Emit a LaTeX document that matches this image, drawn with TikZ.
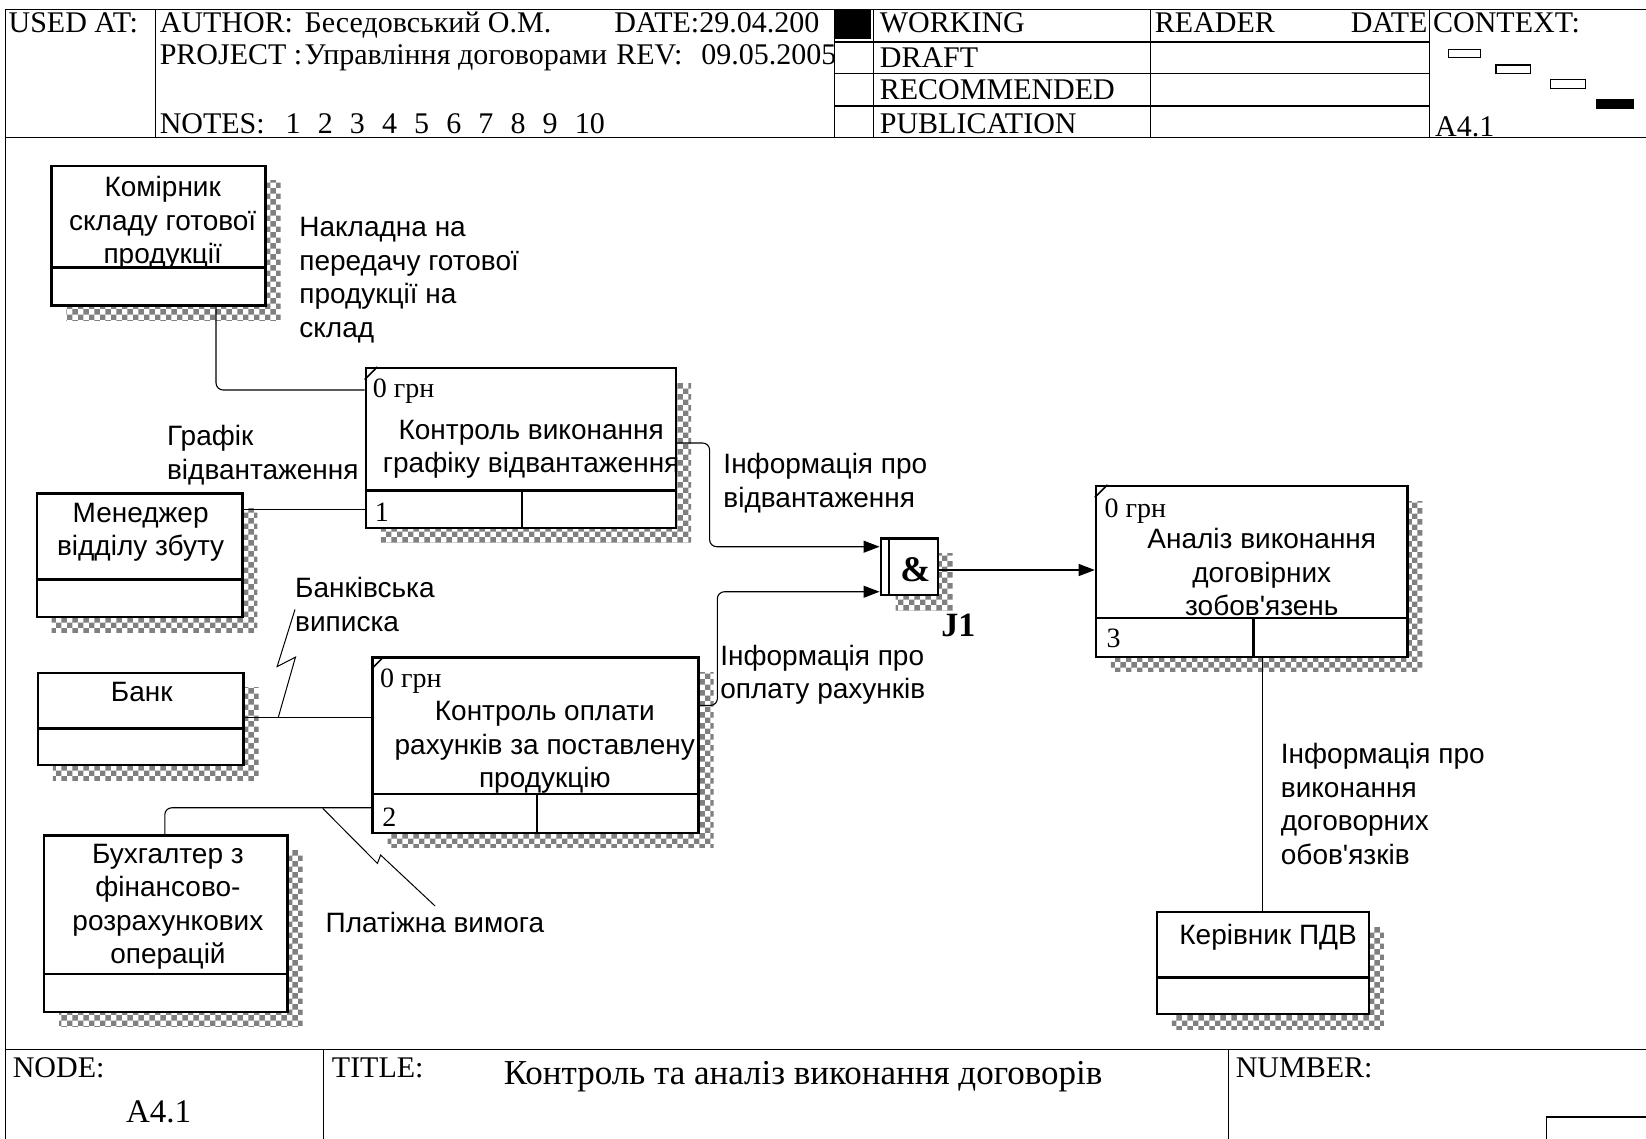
\documentclass[tikz,border=0pt]{standalone}
\usepackage{fontspec}
\setmainfont{Liberation Serif}
\newfontfamily\idefsans{Liberation Sans}
\usetikzlibrary{arrows.meta,fit,patterns,shadows}

\tikzset{
  frame/.style={line width=1.3pt},
  hdr/.style={font=\fontsize{30}{34}\selectfont, anchor=base west, inner sep=0pt},
  refbox/.style={draw, line width=2.4pt, fill=white, inner sep=0pt,
    general shadow={shadow xshift=15pt, shadow yshift=-15pt, pattern=checkerboard, pattern color=black!50}},
  boxline/.style={line width=2.4pt},
  boxtext/.style={font=\idefsans\fontsize{28}{33.5}\selectfont, align=center, anchor=north,
    inner sep=0pt, execute at begin node=\strut},
  arrlabel/.style={font=\idefsans\fontsize{28}{33.5}\selectfont, align=left, anchor=north west,
    inner sep=0pt, execute at begin node=\strut},
  cost/.style={font=\fontsize{28}{32}\selectfont, anchor=base west, inner sep=0pt},
  uobnum/.style={font=\fontsize{28}{32}\selectfont, anchor=base west, inner sep=0pt},
  flow/.style={line width=1.1pt, rounded corners=7pt},
  leader/.style={line width=1pt},
}

\begin{document}
\begin{tikzpicture}[x=1.0497pt, y=-1.0497pt, >={Triangle[length=16pt,width=12pt]}]
  \useasboundingbox (0,0) rectangle (1568,1085);

  % Form frame
  \draw[frame] (5,1085) -- (5,9) -- (1568,9);
  \draw[frame] (5,131) -- (1568,131);
  \draw[frame] (148,9) -- (148,131);
  \draw[frame] (795,9) -- (795,131);
  \draw[frame] (832,9) -- (832,131);
  \draw[frame] (1096,9) -- (1096,131);
  \draw[frame] (1362,9) -- (1362,131);
  \draw[frame] (795,40) -- (1362,40);
  \draw[frame] (795,70) -- (1362,70);
  \draw[frame] (795,101) -- (1362,101);
  \fill (795,9) rectangle (830,37);
  \draw[frame] (5,1000) -- (1568,1000);
  \draw[frame] (308,1000) -- (308,1085);
  \draw[frame] (1170,1000) -- (1170,1085);
  \draw[frame] (1568,1064) -| (1473,1085);

  % Header fields
  \node[hdr] (usedat) at (8,31) {USED AT:};
  \node[hdr] (author) at (152,31) {AUTHOR:};
  \node[hdr] (authname) at (290,31) {Беседовський О.М.};
  \node[hdr] (date) at (585,31) {DATE:29.04.200};
  \node[hdr] (project) at (152,61) {PROJECT :};
  \node[hdr] (projname) at (290,61) {Управління договорами};
  \node[hdr] (rev) at (587,61) {REV:};
  \node[hdr] (revdate) at (668,61) {09.05.2005};
  \node[hdr] (notes) at (152,127) {NOTES:};
  \foreach \n [count=\i from 0] in {1,...,10}
    \node[hdr] (note\n) at (272+30.6*\i,127) {\n};
  \node[hdr] (working) at (838,31) {WORKING};
  \node[hdr] (draft) at (838,64) {DRAFT};
  \node[hdr] (recomm) at (838,95) {RECOMMENDED};
  \node[hdr] (public) at (838,127) {PUBLICATION};
  \node[hdr] (reader) at (1100,31) {READER};
  \node[hdr, anchor=base east] (rdate) at (1360,31) {DATE};
  \node[hdr] (context) at (1365,31) {CONTEXT:};
  \node[hdr] (ctxnode) at (1367,130) {A4.1};

  % Context sketch
  \draw[line width=1.2pt] (1380,47) rectangle (1410,55);
  \draw[line width=1.2pt] (1425,62) rectangle (1458,70);
  \draw[line width=1.2pt] (1477,76) rectangle (1510,84);
  \fill (1520,94) rectangle (1557,104);

  % Footer fields
  \node[hdr] (nodelbl) at (12,1026) {NODE:};
  \node[hdr, font=\fontsize{33}{38}\selectfont] (nodeval) at (120,1069) {A4.1};
  \node[hdr] (titlelbl) at (316,1026) {TITLE:};
  \node[hdr, anchor=base, font=\fontsize{35}{40}\selectfont] (title) at (765,1033)
    {Контроль та аналіз виконання договорів};
  \node[hdr] (numlbl) at (1177,1026) {NUMBER:};

  % Komirnyk
  \node[refbox, fit={(49,158) (253,291)}] (kom) {};
  \draw[boxline] (kom.west |- 0,255) -- (kom.east |- 0,255);
  \node[boxtext] (komtxt) at (155,168) {Комірник\\складу готової\\продукції};

  % Menedzher
  \node[refbox, fit={(35,470) (231,588)}] (mgr) {};
  \draw[boxline] (mgr.west |- 0,552) -- (mgr.east |- 0,552);
  \node[boxtext] (mgrtxt) at (134,479) {Менеджер\\відділу збуту};

  % Bank
  \node[refbox, fit={(36,641) (232,729)}] (bank) {};
  \draw[boxline] (bank.west |- 0,694) -- (bank.east |- 0,694);
  \node[boxtext] (banktxt) at (135,646) {Банк};

  % Bukhhalter
  \node[refbox, fit={(42,796) (274,964)}] (buh) {};
  \draw[boxline] (buh.west |- 0,928) -- (buh.east |- 0,928);
  \node[boxtext] (buhtxt) at (160,804) {Бухгалтер з\\фінансово-\\розрахункових\\операцій};

  % Kerivnyk
  \node[refbox, fit={(1102,869) (1304,966)}] (ker) {};
  \draw[boxline] (ker.west |- 0,931) -- (ker.east |- 0,931);
  \node[boxtext] (kertxt) at (1208,877) {Керівник ПДВ};

  % UOB 1
  \node[refbox, fit={(348.5,350.7) (644,502.7)}] (uobA) {};
  \draw[boxline] (uobA.west |- 0,467.4) -- (uobA.east |- 0,467.4);
  \draw[boxline] (497.3,467.4) -- (uobA.south -| 497.3,0);
  \draw[line width=1.6pt] (uobA.north west) ++(0,12) -- ++(12,-12);
  \node[cost] (costA) at (355,379) {0 грн};
  \node[boxtext] (uobAtxt) at (506,400) {Контроль виконання\\графіку відвантаження};
  \node[uobnum] (numA) at (357,497) {1};

  % UOB 2
  \node[refbox, fit={(355,626.5) (665.4,793.3)}] (uobB) {};
  \draw[boxline] (uobB.west |- 0,756.6) -- (uobB.east |- 0,756.6);
  \draw[boxline] (511.6,756.6) -- (uobB.south -| 511.6,0);
  \draw[line width=1.6pt] (uobB.north west) ++(0,12) -- ++(12,-12);
  \node[cost] (costB) at (362,655) {0 грн};
  \node[boxtext] (uobBtxt) at (519,668) {Контроль оплати\\рахунків за поставлену\\продукцію};
  \node[uobnum] (numB) at (364,787) {2};

  % UOB 3
  \node[refbox, fit={(1044,463) (1340.6,625.7)}] (uobC) {};
  \draw[boxline] (uobC.west |- 0,588.5) -- (uobC.east |- 0,588.5);
  \draw[boxline] (1194,588.5) -- (uobC.south -| 1194,0);
  \draw[line width=1.6pt] (uobC.north west) ++(0,12) -- ++(12,-12);
  \node[cost] (costC) at (1052,493) {0 грн};
  \node[boxtext] (uobCtxt) at (1202,503) {Аналіз виконання\\договірних\\зобов'язень};
  \node[uobnum] (numC) at (1054,617) {3};

  % Junction J1
  \node[refbox, fit={(839,512.8) (893.3,566.8)}] (j1) {};
  \draw[line width=1.8pt] (j1.north -| 847,0) -- (j1.south -| 847,0);
  \node[font=\bfseries\fontsize{36}{40}\selectfont, inner sep=0pt] (amp) at (872,543) {\&};
  \node[font=\bfseries\fontsize{34}{40}\selectfont, anchor=base, inner sep=0pt] (j1lbl) at (913,606) {J1};

  % Arrows
  \draw[flow] (kom.south -| 205.8,0) |- (uobA.west |- 0,371.5);
  \draw[flow] (mgr.east |- 0,485) -- (uobA.west |- 0,485);
  \draw[flow] (bank.east |- 0,683.7) -- (uobB.west |- 0,683.7);
  \draw[flow] (buh.north -| 157,0) |- (uobB.west |- 0,769.5);
  \draw[flow, ->] (uobA.east |- 0,422) -| (676,520.8) -- (j1.west |- 0,520.8);
  \draw[flow, ->] (uobB.east |- 0,672) -| (683.4,563.7) -- (j1.west |- 0,563.7);
  \draw[flow, ->] (j1.east |- 0,543) -- (uobC.west |- 0,543);
  \draw[flow] (uobC.south -| 1202.5,0) -- (ker.north -| 1202.5,0);

  % Arrow labels
  \node[arrlabel] (lnakl) at (285,207) {Накладна на\\передачу готової\\продукції на\\склад};
  \node[arrlabel] (lgraf) at (159,405) {Графік\\відвантаження};
  \node[arrlabel] (lbank) at (281,550) {Банківська\\виписка};
  \node[arrlabel] (linfA) at (689,432) {Інформація про\\відвантаження};
  \node[arrlabel] (linfB) at (686,614) {Інформація про\\оплату рахунків};
  \node[arrlabel] (lpay) at (310,866) {Платіжна вимога};
  \node[arrlabel] (linfC) at (1220,708) {Інформація про\\виконання\\договорних\\обов'язків};

  % Squiggles to labels
  \draw[leader] (265,683.7) -- (281.5,626) -- (264,635) -- (lbank.west);
  \draw[leader] (307.4,770) -- (359.5,822.5) -- (362.6,814.5) -- (414.4,863);
\end{tikzpicture}
\end{document}
